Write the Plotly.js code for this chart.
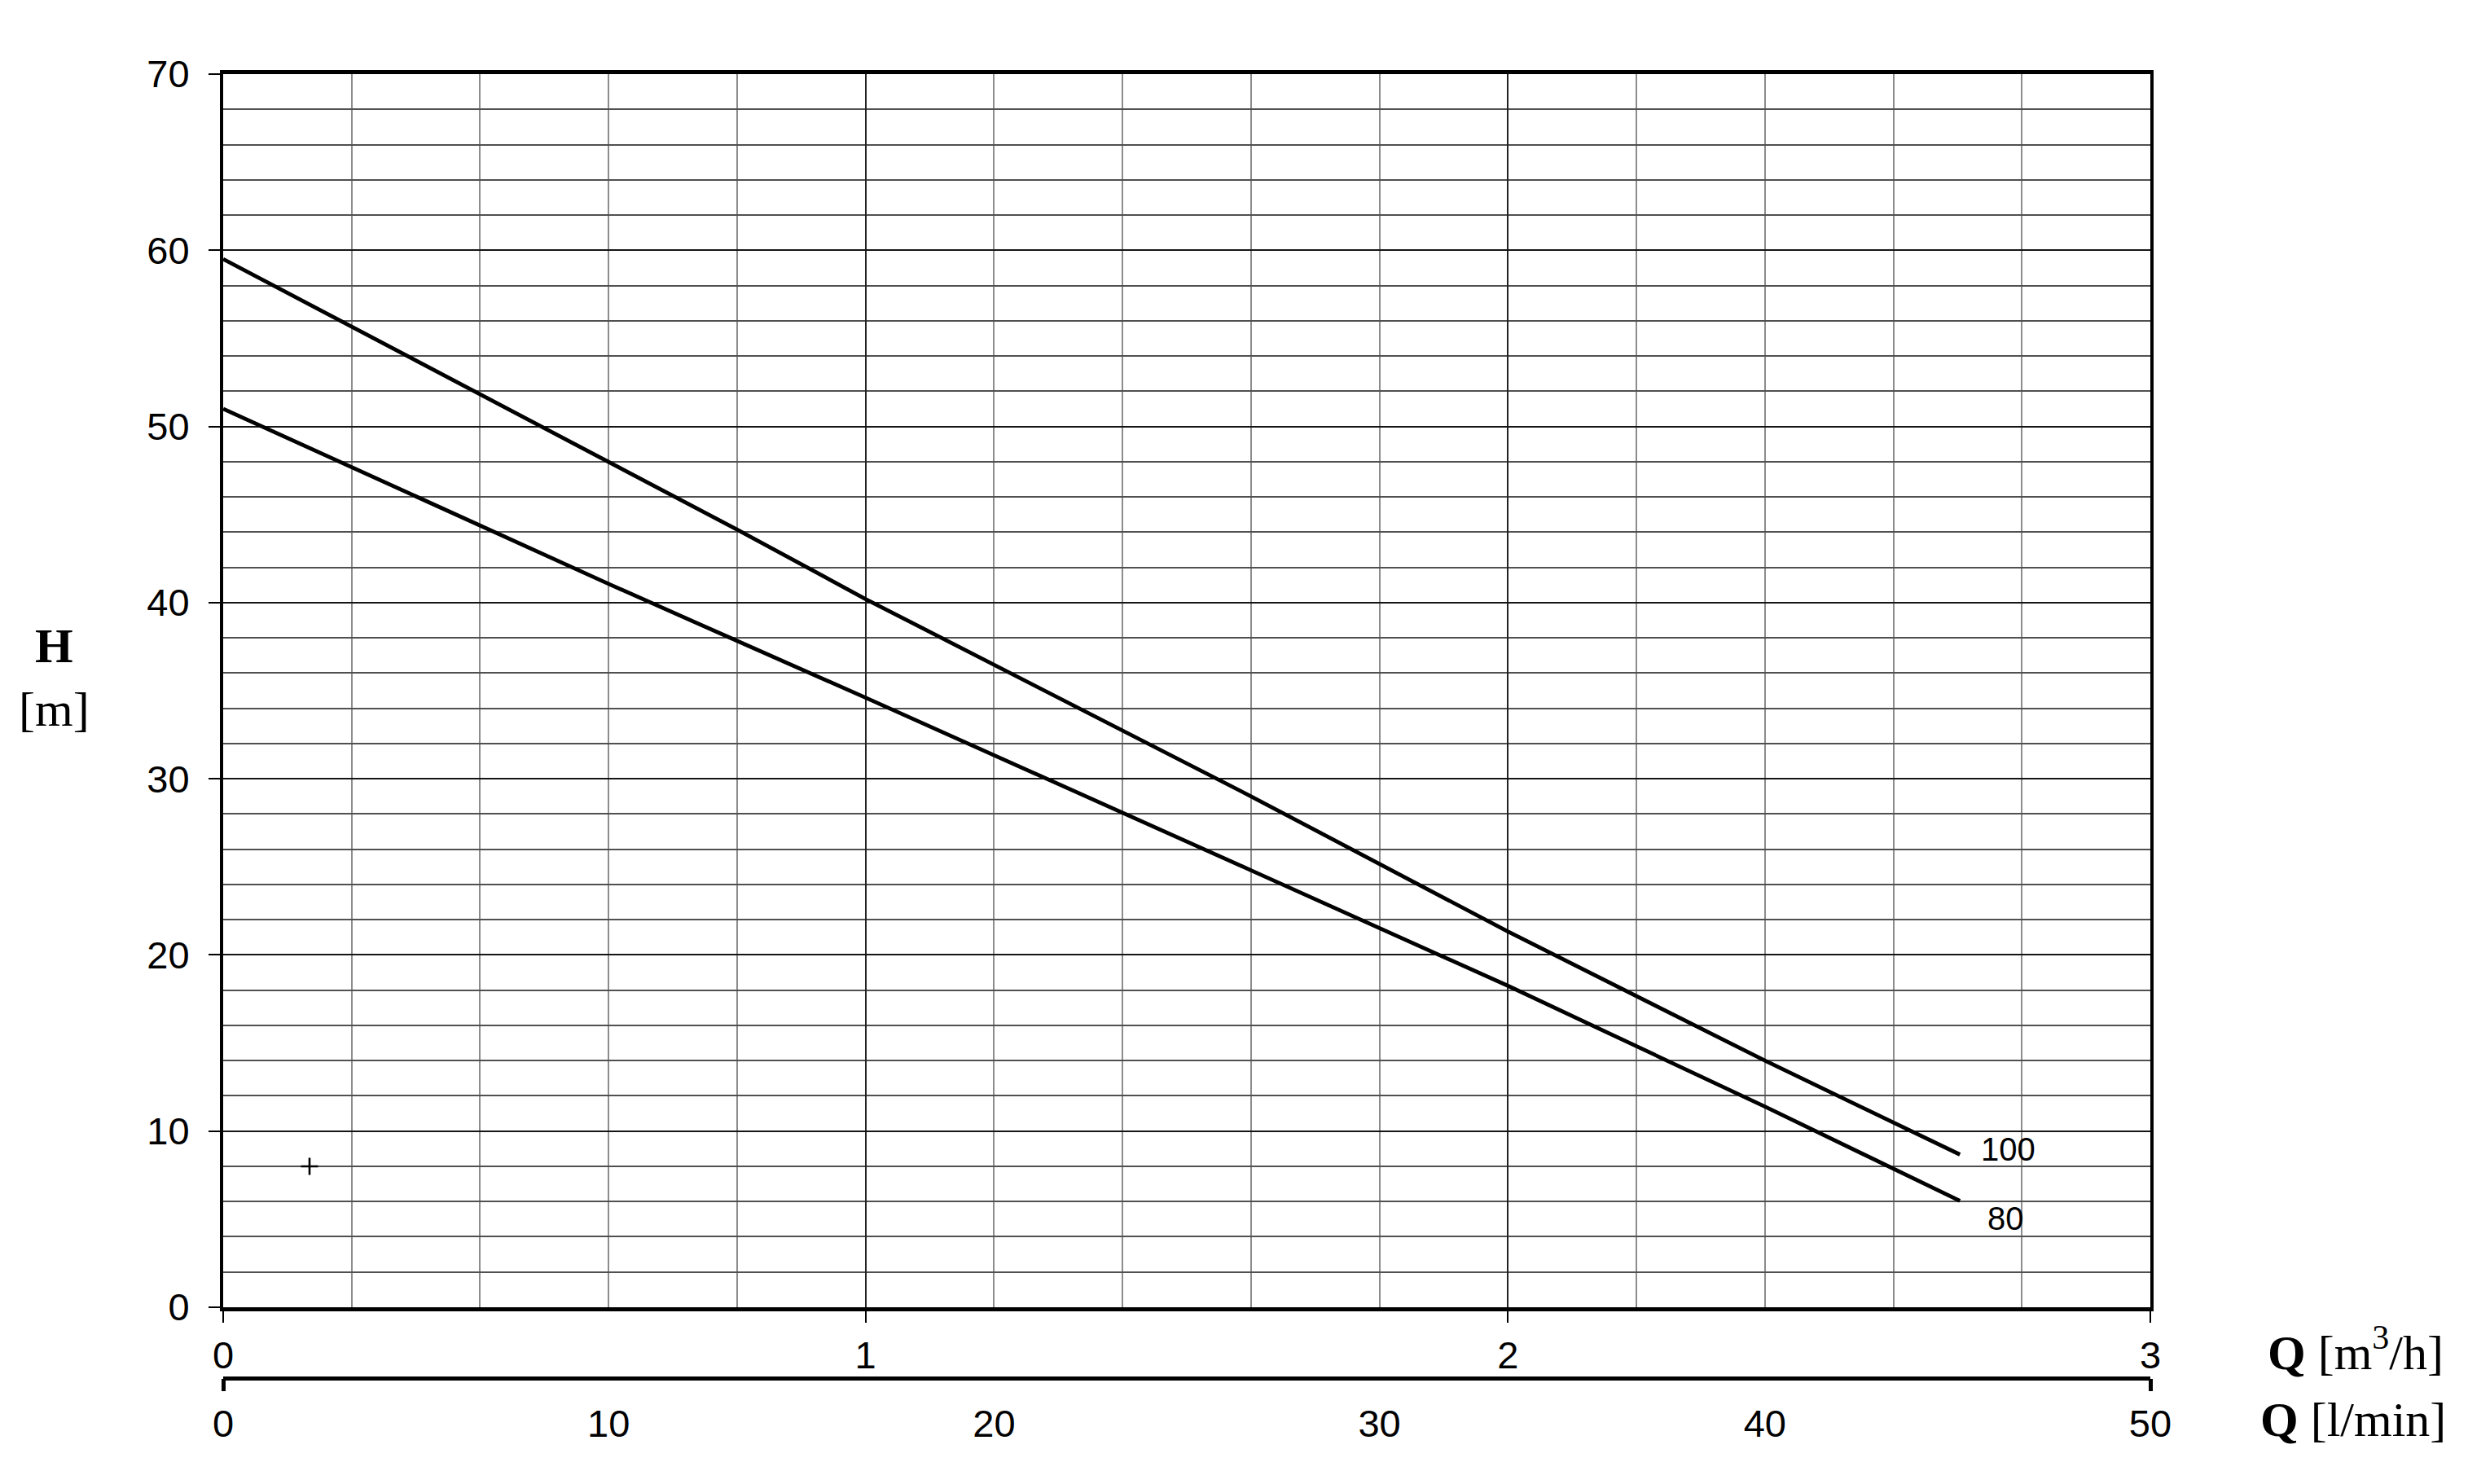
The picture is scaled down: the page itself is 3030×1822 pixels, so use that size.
<!DOCTYPE html>
<html>
<head>
<meta charset="utf-8">
<script src="https://cdn.plot.ly/plotly-3.0.1.min.js"></script>
<style>html,body{margin:0;padding:0;background:#fff;}#chart{width:3030px;height:1822px;}</style>
</head>
<body>
<div id="chart"></div>
<script>
// Flow in l/min and head H in m
const flowLmin = [0, 10, 13.33, 16.67, 26.67, 33.33, 40, 45.06];
const head100 = [59.5, 47.97, 44.15, 40.2, 29.0, 21.33, 14.0, 8.67];
const head80  = [51.0, 41.06, 37.83, 34.6, 24.8, 18.25, 11.39, 6.04];
const curveNames = ["100", "80"];
const markQ = [2.24];
const markH = [8];
const ticksM3h = [0, 1, 2, 3];
const ticksLmin = [0, 10, 20, 30, 40, 50];
const ticksH = [0, 10, 20, 30, 40, 50, 60, 70];

const LMIN_PER_M3H = 1000 / 60;   // unit conversion for the m³/h scale
const sans = "Liberation Sans, Arial, sans-serif";
const serif = "Liberation Serif, Times New Roman, serif";

const lineStyle = {color: "#000", width: 4.8};
const traces = [
  {x: flowLmin, y: head100, xaxis: "x", yaxis: "y", mode: "lines", line: lineStyle, name: curveNames[0], hoverinfo: "skip"},
  {x: flowLmin, y: head80, xaxis: "x2", yaxis: "y", mode: "lines", line: lineStyle, name: curveNames[1], hoverinfo: "skip"},
  {x: markQ, y: markH, xaxis: "x3", yaxis: "y", mode: "markers",
   marker: {symbol: "cross-thin", size: 15, line: {color: "#000", width: 2.6}}, hoverinfo: "skip"}
];

const last = flowLmin.length - 1;
const qMax = ticksLmin[ticksLmin.length - 1];
const layout = {
  width: 3030, height: 1822,
  margin: {l: 274, r: 390, t: 91, b: 130, pad: 0},
  paper_bgcolor: "#fff", plot_bgcolor: "#fff",
  showlegend: false,
  font: {family: sans, size: 47, color: "#000"},
  xaxis: {
    range: [0, qMax], tickmode: "array",
    tickvals: ticksM3h.map(v => v * LMIN_PER_M3H), ticktext: ticksM3h.map(String),
    ticks: "outside", ticklen: 14, tickwidth: 2, tickcolor: "#000",
    showline: true, linewidth: 5, linecolor: "#000", mirror: true,
    showgrid: true, gridcolor: "#222", gridwidth: 2,
    minor: {dtick: 0.2 * LMIN_PER_M3H, tick0: 0, showgrid: true, gridcolor: "#8c8c8c", gridwidth: 2, ticks: ""},
    zeroline: false, anchor: "y", ticklabelstandoff: 0,
    tickfont: {family: sans, size: 47, color: "#000"}
  },
  xaxis2: {
    overlaying: "x", anchor: "free", position: 0, side: "bottom",
    range: [0, qMax], tickmode: "array", tickvals: ticksLmin, ticks: "",
    showline: true, linewidth: 5, linecolor: "#000",
    showgrid: false, zeroline: false, ticklabelstandoff: 13,
    tickfont: {family: sans, size: 47, color: "#000"}
  },
  xaxis3: {
    overlaying: "x", anchor: "free", position: 0, side: "bottom",
    range: [0, qMax], tickmode: "array", tickvals: [ticksLmin[0], qMax],
    ticks: "outside", ticklen: 15, tickwidth: 5, tickcolor: "#000",
    showticklabels: false, showline: false, showgrid: false, zeroline: false
  },
  yaxis: {
    domain: [0.05434, 1], range: [0, 70], tickmode: "array", tickvals: ticksH,
    ticks: "outside", ticklen: 14, tickwidth: 2, tickcolor: "#000",
    showline: true, linewidth: 4, linecolor: "#000", mirror: true,
    showgrid: true, gridcolor: "#151515", gridwidth: 2,
    minor: {dtick: 2, tick0: 0, showgrid: true, gridcolor: "#505050", gridwidth: 2, ticks: ""},
    zeroline: false, ticklabelstandoff: 14,
    tickfont: {family: sans, size: 47, color: "#000"}
  },
  annotations: [
    {xref: "paper", yref: "paper", x: -0.0879, y: 0.537, text: "<b>H</b><br>[m]",
     showarrow: false, xanchor: "center", yanchor: "middle", align: "center",
     font: {family: serif, size: 60, color: "#000"}},
    {xref: "paper", yref: "paper", x: 1.153, y: 0.0219, text: "<b>Q</b> [m<sup>3</sup>/h]",
     showarrow: false, xanchor: "right", yanchor: "middle",
     font: {family: serif, size: 60, color: "#000"}},
    {xref: "paper", yref: "paper", x: 1.1543, y: -0.0318, text: "<b>Q</b> [l/min]",
     showarrow: false, xanchor: "right", yanchor: "middle",
     font: {family: serif, size: 60, color: "#000"}},
    {xref: "x", yref: "y", x: flowLmin[last], y: head100[last], text: curveNames[0],
     showarrow: false, xanchor: "left", yanchor: "middle", xshift: 24, yshift: 6,
     font: {family: sans, size: 40, color: "#000"}},
    {xref: "x", yref: "y", x: flowLmin[last], y: head80[last], text: curveNames[1],
     showarrow: false, xanchor: "left", yanchor: "middle", xshift: 32, yshift: -22,
     font: {family: sans, size: 40, color: "#000"}}
  ]
};

Plotly.newPlot("chart", traces, layout, {staticPlot: true, displayModeBar: false});
</script>
</body>
</html>
